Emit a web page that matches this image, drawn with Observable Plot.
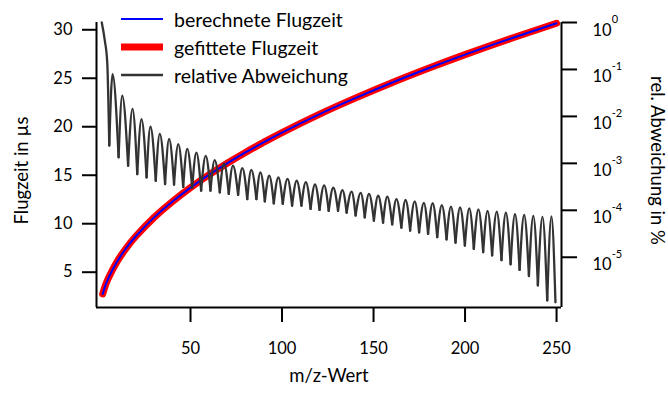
<!DOCTYPE html>
<html>
<head>
<meta charset="utf-8">
<script src="https://cdn.jsdelivr.net/npm/d3@7"></script>
<script src="https://cdn.jsdelivr.net/npm/@observablehq/plot@0.6"></script>
<style>
  body { margin: 0; background: #fff; }
  #chart { position: relative; width: 668px; height: 394px; font-family: Lato, "Open Sans", sans-serif; }
  #legend { position: absolute; left: 121px; top: 5px; font-size: 19.5px; color: #000; }
  #legend .row { height: 28px; display: flex; align-items: center; white-space: nowrap; }
  #legend svg { display: block; margin-right: 11px; }
</style>
</head>
<body>
<div id="chart"><div id="legend"></div></div>
<script>
// Flight time versus m/z (µs)
const tofMz   = [2, 3, 5, 10, 15, 20, 30, 40, 50, 60, 70, 80, 90, 100, 120, 140, 160, 180, 200, 225, 250];
const tofCalc = [2.75, 3.36, 4.34, 6.13, 7.51, 8.68, 10.63, 12.27, 13.72, 15.03, 16.23, 17.35, 18.40, 19.40, 21.25, 22.95, 24.54, 26.03, 27.44, 29.10, 30.67];
const tofFit  = [2.75, 3.36, 4.34, 6.13, 7.51, 8.68, 10.63, 12.27, 13.72, 15.03, 16.23, 17.35, 18.40, 19.40, 21.25, 22.95, 24.54, 26.03, 27.44, 29.10, 30.67];

// Relative deviation (log10 of %): initial descent, then minima and maxima of each oscillation
const devStartMz  = [1.5, 3.2, 4.5];
const devStartLog = [0.0, -0.39, -0.85];
const dipMz = [5.6, 10.7, 15.9, 20.9, 26.0, 31.0, 36.1, 41.0, 46.0, 50.9,
               55.8, 60.9, 66.0, 70.9, 76.0, 81.0, 86.0, 90.6, 95.5, 100.4,
               105.5, 110.6, 115.6, 120.5, 125.5, 130.6, 135.3, 140.2, 145.2, 150.2,
               155.2, 160.2, 165.2, 170.0, 174.9, 179.8, 184.8, 189.9, 194.8, 199.9,
               204.8, 209.9, 214.8, 219.9, 224.9, 229.8, 234.9, 239.8, 244.9, 249.4];
const dipLog = [-2.62, -2.87, -3.05, -3.23, -3.30, -3.37, -3.44, -3.45, -3.50, -3.52,
                -3.58, -3.58, -3.62, -3.65, -3.67, -3.76, -3.76, -3.81, -3.85, -3.86,
                -3.90, -3.90, -3.97, -3.99, -4.01, -4.01, -4.05, -4.11, -4.15, -4.22,
                -4.26, -4.30, -4.37, -4.43, -4.47, -4.50, -4.57, -4.62, -4.69, -4.75,
                -4.82, -4.89, -4.96, -5.06, -5.15, -5.27, -5.40, -5.60, -5.92, -5.96];
const peakMz = [7.4, 12.7, 18.3, 23.2, 28.1, 33.2, 38.3, 43.3, 48.2, 53.2,
                58.3, 63.2, 68.3, 73.2, 78.3, 83.2, 88.2, 93.0, 98.0, 103.0,
                108.0, 113.0, 118.0, 123.0, 128.0, 133.0, 138.0, 143.0, 147.5, 152.5,
                157.5, 162.5, 167.5, 172.5, 177.5, 182.3, 187.3, 192.3, 197.3, 202.3,
                207.3, 212.3, 217.3, 222.3, 227.3, 232.3, 237.3, 242.3, 247.2];
const peakLog = [-1.10, -1.56, -1.84, -2.06, -2.22, -2.37, -2.48, -2.59, -2.69, -2.77,
                 -2.84, -2.93, -3.00, -3.05, -3.10, -3.14, -3.19, -3.26, -3.30, -3.33,
                 -3.37, -3.40, -3.45, -3.47, -3.52, -3.57, -3.60, -3.63, -3.65, -3.69,
                 -3.71, -3.76, -3.78, -3.81, -3.84, -3.85, -3.89, -3.92, -3.94, -3.96,
                 -3.98, -4.01, -4.03, -4.05, -4.08, -4.10, -4.12, -4.14, -4.13];

const xTicks = [50, 100, 150, 200, 250];
const leftTicks = [5, 10, 15, 20, 25, 30];
const rightTickExp = [-5, -4, -3, -2, -1, 0];

const xDomain = [-1.37, 252.7];
const yDomain = [1.36, 30.75];      // left axis (µs)
const logDomain = [-6.07, 0];       // right axis (log10 %)

// the right axis shares the plot's y scale: map decades onto it
const toLeft = l => yDomain[0] + (l - logDomain[0]) / (logDomain[1] - logDomain[0]) * (yDomain[1] - yDomain[0]);
const fromLeft = v => logDomain[0] + (v - yDomain[0]) / (yDomain[1] - yDomain[0]) * (logDomain[1] - logDomain[0]);

const calcRows = tofMz.map((m, i) => ({mz: m, t: tofCalc[i]}));
const fitRows = tofMz.map((m, i) => ({mz: m, t: tofFit[i]}));

// each oscillation is its own arch so the minima stay sharp
const devRows = [];
devStartMz.forEach((m, i) => devRows.push({mz: m, lg: devStartLog[i], seg: 0}));
devRows.push({mz: dipMz[0], lg: dipLog[0], seg: 0});
for (let i = 0; i < peakMz.length; i++) {
  devRows.push({mz: dipMz[i], lg: dipLog[i], seg: i + 1});
  devRows.push({mz: peakMz[i], lg: peakLog[i], seg: i + 1});
  devRows.push({mz: dipMz[i + 1], lg: dipLog[i + 1], seg: i + 1});
}

const colors = {calc: "#0000ff", fit: "#ff0000", dev: "#333333"};
const titleSize = 18.5;

const chart = Plot.plot({
  width: 668,
  height: 394,
  marginLeft: 96,
  marginRight: 107,
  marginTop: 22,
  marginBottom: 87,
  style: {fontFamily: "Lato, 'Open Sans', sans-serif", fontSize: "16px", color: "#000", background: "#fff"},
  x: {domain: xDomain},
  y: {domain: yDomain},
  marks: [
    Plot.line(fitRows, {x: "mz", y: "t", stroke: colors.fit, strokeWidth: 7, curve: "natural"}),
    Plot.line(calcRows, {x: "mz", y: "t", stroke: colors.calc, strokeWidth: 2, curve: "natural"}),
    Plot.line(devRows, {x: "mz", y: d => toLeft(d.lg), z: "seg", stroke: colors.dev, strokeWidth: 2.3, curve: "monotone-x"}),
    Plot.ruleX([xDomain[0]], {stroke: "#000", strokeWidth: 2}),
    Plot.ruleX([xDomain[1]], {stroke: "#000", strokeWidth: 2}),
    Plot.ruleY([yDomain[0]], {stroke: "#000", strokeWidth: 2}),
    Plot.axisX({ticks: xTicks, tickSize: 15, tickPadding: 20, strokeWidth: 2, fontSize: 16.5, label: null}),
    Plot.axisY({anchor: "left", ticks: leftTicks, tickSize: 14, tickPadding: 10, strokeWidth: 2, fontSize: 16.5, label: null}),
    Plot.axisY({anchor: "right", ticks: rightTickExp.map(toLeft), tickFormat: d => "10^" + Math.round(fromLeft(d)),
                tickSize: 15, tickPadding: 16, strokeWidth: 2, fontSize: 16.5, label: null}),
    Plot.text(["Flugzeit in µs"], {frameAnchor: "left", textAnchor: "middle", text: d => d, rotate: -90, dx: -74, dy: 5.5, fontSize: titleSize}),
    Plot.text(["rel. Abweichung in %"], {frameAnchor: "right", textAnchor: "middle", text: d => d, rotate: 90, dx: 95, dy: -4.5, fontSize: titleSize}),
    Plot.text(["m/z-Wert"], {frameAnchor: "bottom", textAnchor: "middle", text: d => d, dy: 74, fontSize: titleSize})
  ]
});

// render decade labels as 10 with a raised exponent
chart.querySelectorAll("text").forEach(el => {
  const s = el.textContent;
  if (!s.includes("^")) return;
  const [base, exp] = s.split("^");
  el.textContent = "";
  const ns = "http://www.w3.org/2000/svg";
  const b = document.createElementNS(ns, "tspan");
  b.setAttribute("dy", "0.47em");
  b.textContent = base;
  const e = document.createElementNS(ns, "tspan");
  e.setAttribute("dy", "-1.1em");
  e.setAttribute("font-size", "11px");
  e.textContent = exp;
  el.append(b, e);
});

document.getElementById("chart").prepend(chart);

// legend
const legendItems = [
  {label: "berechnete Flugzeit", color: colors.calc, width: 2},
  {label: "gefittete Flugzeit", color: colors.fit, width: 7},
  {label: "relative Abweichung", color: colors.dev, width: 2.3}
];
const legend = d3.select("#legend");
legendItems.forEach(item => {
  const row = legend.append("div").attr("class", "row");
  const sw = row.append("svg").attr("width", 42).attr("height", 10);
  sw.append("line").attr("x1", 0).attr("x2", 42).attr("y1", 5).attr("y2", 5)
    .attr("stroke", item.color).attr("stroke-width", item.width);
  row.append("span").text(item.label);
});
</script>
</body>
</html>
